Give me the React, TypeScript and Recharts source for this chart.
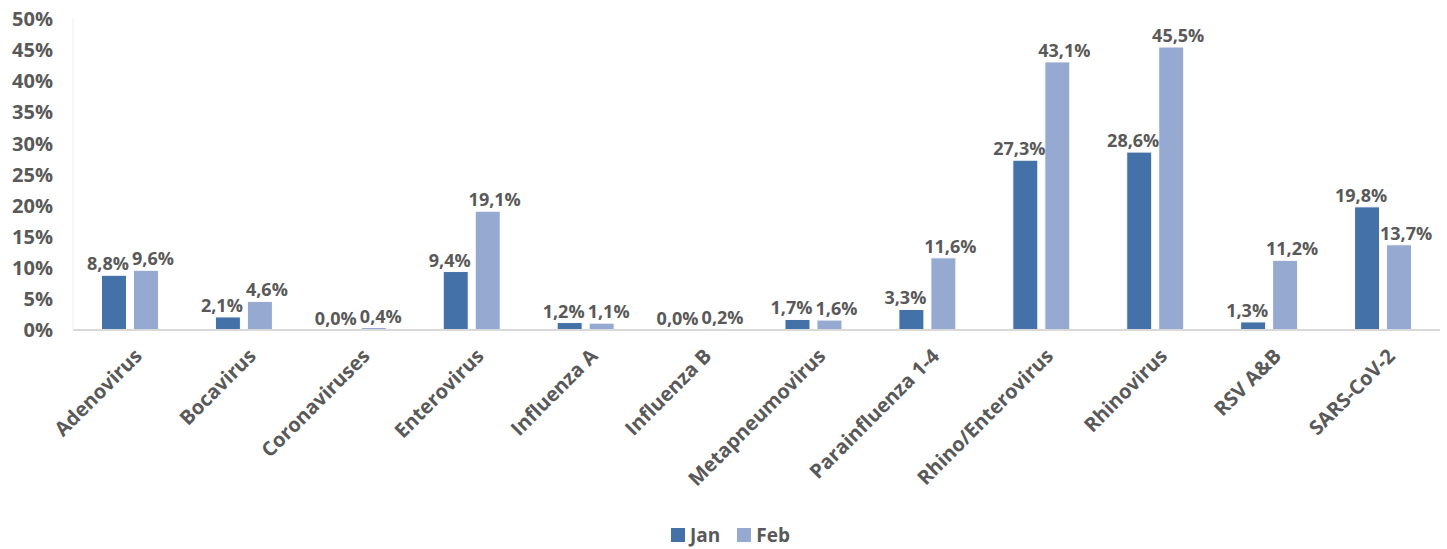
import React from "react";
import {
  BarChart,
  Bar,
  XAxis,
  YAxis,
  Legend,
  LabelList,
} from "recharts";

const categories = [
  "Adenovirus",
  "Bocavirus",
  "Coronaviruses",
  "Enterovirus",
  "Influenza A",
  "Influenza B",
  "Metapneumovirus",
  "Parainfluenza 1-4",
  "Rhino/Enterovirus",
  "Rhinovirus",
  "RSV A&B",
  "SARS-CoV-2",
];

const janValues = [8.8, 2.1, 0.0, 9.4, 1.2, 0.0, 1.7, 3.3, 27.3, 28.6, 1.3, 19.8];
const febValues = [9.6, 4.6, 0.4, 19.1, 1.1, 0.2, 1.6, 11.6, 43.1, 45.5, 11.2, 13.7];

const yTicks = [0, 5, 10, 15, 20, 25, 30, 35, 40, 45, 50];

const data = categories.map((name, i) => ({
  name,
  Jan: janValues[i],
  Feb: febValues[i],
}));

const FONT = "'Open Sans', sans-serif";
const TEXT = "#595959";
const JAN = "#4472a8";
const FEB = "#95a9d1";

// labels get nudged apart a bit, like excel does
const series = [
  { key: "Jan", color: JAN, nudge: -6 },
  { key: "Feb", color: FEB, nudge: 7 },
];

const fmt = (v: number) => v.toFixed(1).replace(".", ",") + "%";

const XTick = ({ x, y, payload }: any) => {
  const tx = x + 8;
  const ty = y + 14;
  return (
    <text
      x={tx}
      y={ty}
      transform={`rotate(-45, ${tx}, ${ty})`}
      textAnchor="end"
      dominantBaseline="central"
      fill={TEXT}
      fontSize={20}
      fontWeight={700}
      fontFamily={FONT}
    >
      {payload.value}
    </text>
  );
};

const CustomLegend = () => (
  <div
    style={{
      display: "flex",
      justifyContent: "center",
      gap: 17,
      fontFamily: FONT,
      fontWeight: 700,
      fontSize: 19,
      color: TEXT,
      paddingLeft: 21,
      height: 26,
      alignItems: "center",
    }}
  >
    {series.map((s) => (
      <div key={s.key} style={{ display: "flex", alignItems: "center", gap: 5 }}>
        <div style={{ width: 14, height: 14, background: s.color }} />
        <span>{s.key}</span>
      </div>
    ))}
  </div>
);

const zeroSize = (v: any) => (v === 0 ? 0.01 : 0);

export default function App() {
  return (
    <div style={{ position: "absolute", left: 0, top: 0, width: 1447, height: 549, background: "#fff" }}>
      <BarChart
        width={1447}
        height={549}
        data={data}
        margin={{ top: 19, right: 7, bottom: 0, left: 0 }}
        barGap={7}
        barCategoryGap="25%"
      >
        <XAxis
          dataKey="name"
          interval={0}
          height={192}
          tick={<XTick />}
          tickLine={false}
          axisLine={{ stroke: "#d9d9d9", strokeWidth: 2 }}
        />
        <YAxis
          width={73}
          domain={[0, 50]}
          ticks={yTicks}
          interval={0}
          tickFormatter={(v: number) => `${v}%`}
          tickLine={false}
          axisLine={{ stroke: "#eeeeee", strokeWidth: 1 }}
          tick={{ fill: TEXT, fontSize: 20, fontWeight: 700, fontFamily: FONT, dx: -12 }}
        />
        <Legend verticalAlign="bottom" height={27} content={<CustomLegend />} />
        {series.map((s) => (
          <Bar
            key={s.key}
            dataKey={s.key}
            fill={s.color}
            stroke="#fff"
            strokeWidth={1}
            minPointSize={zeroSize}
            isAnimationActive={false}
          >
            <LabelList
              dataKey={s.key}
              position="top"
              offset={5}
              formatter={fmt}
              fill={TEXT}
              fontSize={18}
              fontWeight={700}
              fontFamily={FONT}
              dx={s.nudge}
            />
          </Bar>
        ))}
      </BarChart>
    </div>
  );
}
